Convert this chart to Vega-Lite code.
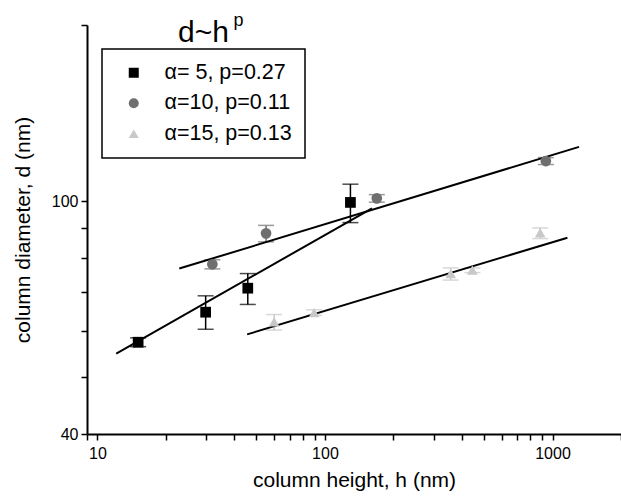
{
  "$schema": "https://vega.github.io/schema/vega-lite/v6.json",
  "width": 534,
  "height": 409,
  "autosize": "none",
  "padding": {"left": 87, "top": 25, "right": 0, "bottom": 63},
  "background": "white",
  "config": {
    "view": {"stroke": null},
    "legend": {"strokeWidth": 1.5},
    "axis": {
      "domainColor": "black", "domainWidth": 2, "tickColor": "black", "tickWidth": 1.5,
      "labelFont": "Liberation Sans", "labelFontSize": 16, "labelColor": "black",
      "titleFont": "Liberation Sans", "titleFontSize": 21, "titleFontWeight": "normal", "titleColor": "black",
      "grid": false
    }
  },
  "datasets": {
    "pts": [
      {"series": "α= 5, p=0.27", "h": 15.1, "d": 57.4, "lo": 56.4, "hi": 58.4},
      {"series": "α= 5, p=0.27", "h": 29.9, "d": 64.6, "lo": 60.4, "hi": 68.9},
      {"series": "α= 5, p=0.27", "h": 45.8, "d": 71.0, "lo": 66.6, "hi": 75.2},
      {"series": "α= 5, p=0.27", "h": 129.4, "d": 99.5, "lo": 91.9, "hi": 106.9},
      {"series": "α=10, p=0.11", "h": 32.0, "d": 78.0, "lo": 76.6, "hi": 79.4},
      {"series": "α=10, p=0.11", "h": 55.1, "d": 88.1, "lo": 85.2, "hi": 90.9},
      {"series": "α=10, p=0.11", "h": 169.0, "d": 101.1, "lo": 99.6, "hi": 102.6},
      {"series": "α=10, p=0.11", "h": 935, "d": 117.1, "lo": 115.5, "hi": 118.7},
      {"series": "α=15, p=0.13", "h": 59.8, "d": 62.2, "lo": 60.2, "hi": 64.0},
      {"series": "α=15, p=0.13", "h": 89.6, "d": 64.5, "lo": 63.8, "hi": 65.2},
      {"series": "α=15, p=0.13", "h": 357, "d": 75.2, "lo": 73.3, "hi": 76.9},
      {"series": "α=15, p=0.13", "h": 444.6, "d": 76.2, "lo": 75.5, "hi": 76.9},
      {"series": "α=15, p=0.13", "h": 883, "d": 88.3, "lo": 86.3, "hi": 90.0}
    ],
    "fits": [
      {"series": "α= 5, p=0.27", "h": 12.1, "d": 54.9},
      {"series": "α= 5, p=0.27", "h": 160.9, "d": 97.2},
      {"series": "α=10, p=0.11", "h": 22.9, "d": 76.7},
      {"series": "α=10, p=0.11", "h": 1308, "d": 123.8},
      {"series": "α=15, p=0.13", "h": 45.5, "d": 59.2},
      {"series": "α=15, p=0.13", "h": 1163, "d": 86.6}
    ],
    "titles": [
      {"label": "d~h", "h": 22.6, "d": 187, "part": "main"},
      {"label": "p", "h": 39.6, "d": 199, "part": "sup"}
    ]
  },
  "layer": [
    {
      "data": {"name": "pts"},
      "mark": {"type": "rule", "strokeWidth": 1.5},
      "encoding": {
        "x": {"field": "h", "type": "quantitative", "scale": {"type": "log", "domain": [9, 2000], "nice": false},
          "axis": {
            "title": "column height, h (nm)", "titlePadding": 8,
            "values": [9, 10, 20, 30, 40, 50, 60, 70, 80, 90, 100, 200, 300, 400, 500, 600, 700, 800, 900, 1000, 2000],
            "format": "d",
            "labelExpr": "datum.value == 10 || datum.value == 100 || datum.value == 1000 ? datum.label : ''",
            "tickSize": 6, "labelPadding": 5, "labelFlush": false, "labelOverlap": false
          }},
        "y": {"field": "lo", "type": "quantitative", "scale": {"type": "log", "domain": [40, 200], "nice": false},
          "axis": {
            "title": "column diameter, d (nm)", "titlePadding": 18,
            "values": [40, 50, 60, 70, 80, 90, 100, 200],
            "format": "d",
            "labelExpr": "datum.value == 40 || datum.value == 100 ? datum.label : ''",
            "tickSize": 6, "labelPadding": 3, "labelFlush": false, "labelOverlap": false
          }},
        "y2": {"field": "hi"},
        "color": {"field": "series", "type": "nominal",
          "scale": {"domain": ["α= 5, p=0.27", "α=10, p=0.11", "α=15, p=0.13"], "range": ["#000000", "#6f6f6f", "#c8c8c8"]}}
      }
    },
    {
      "data": {"name": "pts"},
      "mark": {"type": "tick", "orient": "horizontal", "size": 16, "thickness": 1.5},
      "encoding": {
        "x": {"field": "h", "type": "quantitative"},
        "y": {"field": "lo", "type": "quantitative"},
        "color": {"field": "series", "type": "nominal"}
      }
    },
    {
      "data": {"name": "pts"},
      "mark": {"type": "tick", "orient": "horizontal", "size": 16, "thickness": 1.5},
      "encoding": {
        "x": {"field": "h", "type": "quantitative"},
        "y": {"field": "hi", "type": "quantitative"},
        "color": {"field": "series", "type": "nominal"}
      }
    },
    {
      "data": {"name": "fits"},
      "mark": {"type": "line", "color": "black", "strokeWidth": 2},
      "encoding": {
        "x": {"field": "h", "type": "quantitative"},
        "y": {"field": "d", "type": "quantitative"},
        "detail": {"field": "series", "type": "nominal"}
      }
    },
    {
      "data": {"name": "pts"},
      "mark": {"type": "point", "filled": true, "opacity": 1, "size": 115},
      "encoding": {
        "x": {"field": "h", "type": "quantitative"},
        "y": {"field": "d", "type": "quantitative"},
        "color": {"field": "series", "type": "nominal",
          "legend": {
            "orient": "none", "legendX": 15, "legendY": 24, "title": null,
            "strokeColor": "black", "fillColor": "white", "padding": 13,
            "labelFont": "Liberation Sans", "labelFontSize": 21.5, "labelColor": "black",
            "symbolSize": 100, "symbolOpacity": 1, "rowPadding": 7.5, "symbolOffset": 8, "labelOffset": 20, "symbolStrokeWidth": 0,
            "encode": {"symbols": {"update": {"opacity": {"value": 1}, "fillOpacity": {"value": 1}}}}
          }},
        "shape": {"field": "series", "type": "nominal",
          "scale": {"domain": ["α= 5, p=0.27", "α=10, p=0.11", "α=15, p=0.13"], "range": ["square", "circle", "triangle-up"]}}
      }
    },
    {
      "data": {"name": "titles"},
      "transform": [{"filter": "datum.part == 'main'"}],
      "mark": {"type": "text", "align": "left", "baseline": "alphabetic", "font": "Liberation Sans", "fontSize": 30, "color": "black"},
      "encoding": {
        "x": {"field": "h", "type": "quantitative"},
        "y": {"field": "d", "type": "quantitative"},
        "text": {"field": "label"}
      }
    },
    {
      "data": {"name": "titles"},
      "transform": [{"filter": "datum.part == 'sup'"}],
      "mark": {"type": "text", "align": "left", "baseline": "alphabetic", "font": "Liberation Sans", "fontSize": 18, "color": "black"},
      "encoding": {
        "x": {"field": "h", "type": "quantitative"},
        "y": {"field": "d", "type": "quantitative"},
        "text": {"field": "label"}
      }
    }
  ]
}
